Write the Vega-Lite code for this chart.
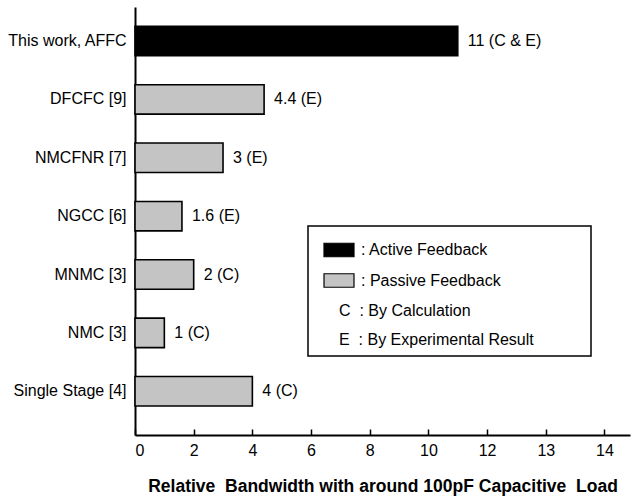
{
  "$schema": "https://vega.github.io/schema/vega-lite/v6.json",
  "width": 495,
  "height": 428,
  "autosize": {"type": "none"},
  "padding": {"left": 135, "top": 7, "right": 1, "bottom": 63},
  "background": "white",
  "config": {"view": {"stroke": null}, "font": "Liberation Sans", "legend": {"strokeWidth": 1.5}},
  "data": {
    "values": [
      {"design": "This work, AFFC", "bw": 11, "label": "11 (C & E)", "feedback": "Active"},
      {"design": "DFCFC [9]", "bw": 4.4, "label": "4.4 (E)", "feedback": "Passive"},
      {"design": "NMCFNR [7]", "bw": 3, "label": "3 (E)", "feedback": "Passive"},
      {"design": "NGCC [6]", "bw": 1.6, "label": "1.6 (E)", "feedback": "Passive"},
      {"design": "MNMC [3]", "bw": 2, "label": "2 (C)", "feedback": "Passive"},
      {"design": "NMC [3]", "bw": 1, "label": "1 (C)", "feedback": "Passive"},
      {"design": "Single Stage [4]", "bw": 4, "label": "4 (C)", "feedback": "Passive"}
    ]
  },
  "encoding": {
    "y": {
      "field": "design",
      "type": "nominal",
      "sort": null,
      "scale": {"paddingInner": 0.495, "paddingOuter": 0.414, "align": 0.4},
      "axis": {
        "title": null,
        "ticks": false,
        "domainColor": "black",
        "domainWidth": 2,
        "labelFontSize": 16,
        "labelColor": "black",
        "labelPadding": 9,
        "labelLimit": 300
      }
    }
  },
  "layer": [
    {
      "mark": {"type": "bar", "stroke": "black", "strokeWidth": 1.6},
      "encoding": {
        "x": {
          "field": "bw",
          "type": "quantitative",
          "scale": {"domain": [0, 16.87], "nice": false, "zero": true},
          "axis": {
            "title": "Relative\u00a0 Bandwidth with around 100pF Capacitive\u00a0 Load",
            "titleFontSize": 17.5,
            "titleFontWeight": "bold",
            "titleColor": "black",
            "titlePadding": 19,
            "values": [0, 2, 4, 6, 8, 10, 12, 14, 16],
            "labelExpr": "datum.value == 14 ? '13' : datum.value == 16 ? '14' : datum.label",
            "grid": false,
            "tickSize": -6,
            "tickWidth": 1.5,
            "tickColor": "black",
            "domainColor": "black",
            "domainWidth": 2,
            "labelFontSize": 16,
            "labelColor": "black",
            "labelPadding": 13
          }
        },
        "fill": {
          "field": "feedback",
          "type": "nominal",
          "scale": {
            "domain": ["Active", "Passive", "C", "E"],
            "range": ["black", "#c4c4c4", "transparent", "transparent"]
          },
          "legend": {
            "orient": "none",
            "legendX": 173,
            "legendY": 219,
            "title": null,
            "symbolType": "M-1,-0.45H1V0.45H-1Z",
            "symbolSize": 900,
            "symbolStrokeColor": "black",
            "symbolStrokeWidth": 1.2,
            "symbolOffset": 7,
            "labelOffset": 6,
            "labelFontSize": 16,
            "labelColor": "black",
            "labelLimit": 500,
            "padding": 8,
            "rowPadding": 4.5,
            "strokeColor": "black",
            "fillColor": "white",
            "labelExpr": "datum.value == 'Active' ? ': Active Feedback' : datum.value == 'Passive' ? ': Passive Feedback' : datum.value == 'C' ? 'C\u00a0\u00a0: By Calculation' : 'E\u00a0\u00a0: By Experimental Result\u00a0\u00a0\u00a0\u00a0\u00a0\u00a0\u00a0\u00a0\u00a0\u00a0\u00a0\u200b'",
            "encode": {
              "symbols": {"update": {"opacity": {"signal": "datum.index >= 2 ? 0 : 1"}}},
              "labels": {"update": {"dx": {"signal": "datum.index >= 2 ? -22 : 0"}}}
            }
          }
        }
      }
    },
    {
      "mark": {"type": "text", "align": "left", "baseline": "middle", "dx": 10, "fontSize": 16, "color": "black"},
      "encoding": {
        "x": {"field": "bw", "type": "quantitative"},
        "text": {"field": "label"}
      }
    }
  ]
}
